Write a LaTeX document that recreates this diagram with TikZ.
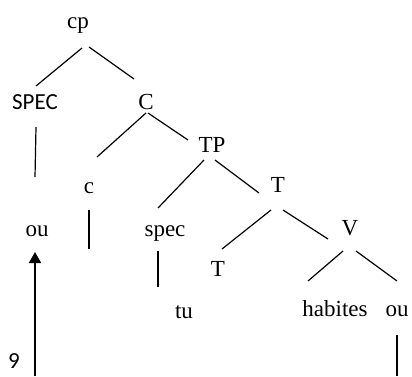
\documentclass[tikz,border=0pt]{standalone}
\usepackage{fontspec}
\setmainfont{Liberation Serif}
\newfontfamily\calibrifont{Carlito}
\usetikzlibrary{arrows.meta}

\begin{document}
\begin{tikzpicture}[
        x=1pt, y=-1pt,
        word/.style={anchor=base, inner sep=0pt, font=\fontsize{23}{27}\selectfont},
        sans word/.style={word, font=\calibrifont\fontsize{23}{27}\selectfont},
        branch/.style={line width=1.2pt},
        movement/.style={line width=1.8pt, -{Triangle[length=11pt, width=12pt]}}
    ]
    \useasboundingbox (0,0) rectangle (412,376);
    % labels
    \node[word] (cp) at (78,28) {cp};
    \node[sans word] (SPEC) at (35,109) {SPEC};
    \node[word] (C) at (146,109) {C};
    \node[word] (c) at (89,193) {c};
    \node[word] (TP) at (212,152) {TP};
    \node[word] (ouA) at (37,236) {ou};
    \node[word] (spec) at (165,236) {spec};
    \node[word] (Tbar) at (278,192) {T};
    \node[word] (Thead) at (218,276) {T};
    \node[word] (V) at (350,235) {V};
    \node[word] (tu) at (184,318) {tu};
    \node[word] (habites) at (335,316) {habites};
    \node[word] (ouB) at (397,316) {ou};
    \node[sans word] (nine) at (14,368) {9};
    \coordinate (foot) at (35,376);
    % branches
    \draw[branch] ([shift={(4,20)}]cp.base) -- ([shift={(1,-23)}]SPEC.base);
    \draw[branch] ([shift={(11,19)}]cp.base) -- ([shift={(-12,-30)}]C.base);
    \draw[branch] ([shift={(1,18)}]SPEC.base) -- ([shift={(-2,-59)}]ouA.base);
    \draw[branch] ([shift={(0,4)}]C.base) -- ([shift={(8,-36)}]c.base);
    \draw[branch] ([shift={(2,4)}]C.base) -- ([shift={(-24,-12)}]TP.base);
    \draw[branch] ([shift={(0,17)}]c.base) -- ++(0,39);
    \draw[branch] ([shift={(-8,8)}]TP.base) -- ([shift={(-7,-28)}]spec.base);
    \draw[branch] ([shift={(3,8)}]TP.base) -- ([shift={(-19,1)}]Tbar.base);
    \draw[branch] ([shift={(-7,15)}]spec.base) -- ([shift={(-26,-31)}]tu.base);
    \draw[branch] ([shift={(-7,18)}]Tbar.base) -- ([shift={(4,-27)}]Thead.base);
    \draw[branch] ([shift={(5,18)}]Tbar.base) -- ([shift={(-22,4)}]V.base);
    \draw[branch] ([shift={(-7,16)}]V.base) -- ([shift={(-27,-35)}]habites.base);
    \draw[branch] ([shift={(6,16)}]V.base) -- ([shift={(0,-35)}]ouB.base);
    \draw[branch] ([shift={(0,19)}]ouB.base) -- ++(0,41);
    % movement
    \draw[movement] (foot) -- ([shift={(-2,16)}]ouA.base);
\end{tikzpicture}
\end{document}
